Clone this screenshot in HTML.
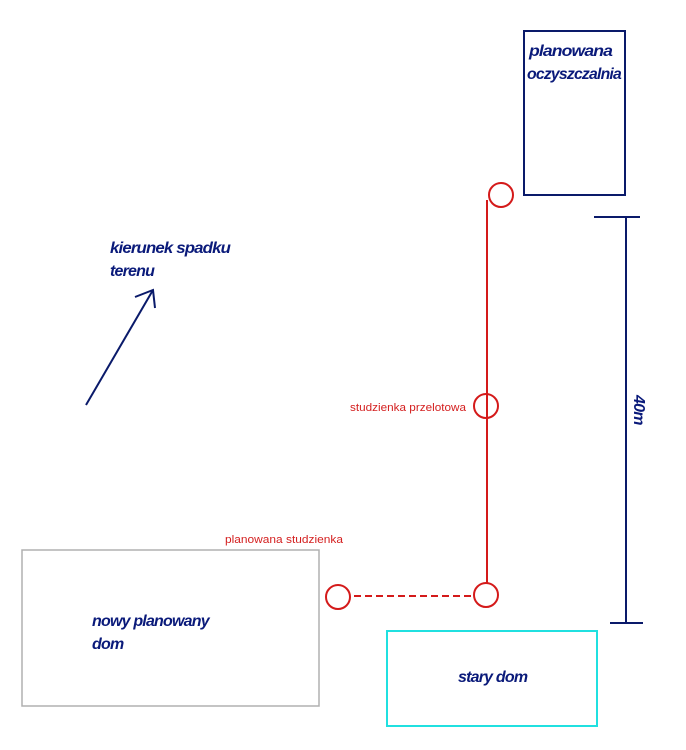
<!DOCTYPE html>
<html><head><style>
html,body{margin:0;padding:0;background:#fff;}
svg{display:block;}
.n{font-family:"Liberation Sans",sans-serif;font-weight:bold;font-style:italic;fill:#0a1a7a;font-size:16px;letter-spacing:-0.8px;}
.r{font-family:"Liberation Sans",sans-serif;fill:#d42020;font-size:11px;}
</style></head><body>
<svg width="686" height="750" viewBox="0 0 686 750" xmlns="http://www.w3.org/2000/svg">
<rect x="524" y="31" width="101" height="164" fill="none" stroke="#0a1a6a" stroke-width="2"/>
<text class="n" x="529" y="56" textLength="83" lengthAdjust="spacingAndGlyphs">planowana</text>
<text class="n" x="527" y="79" textLength="94" lengthAdjust="spacingAndGlyphs">oczyszczalnia</text>
<g fill="none" stroke="#d41a1a" stroke-width="2">
<line x1="487" y1="200" x2="487" y2="583"/>
<circle cx="501" cy="195" r="12"/>
<circle cx="486" cy="406" r="12"/>
<circle cx="486" cy="595" r="12"/>
<circle cx="338" cy="597" r="12"/>
<line x1="354" y1="596" x2="472" y2="596" stroke-dasharray="7,4"/>
</g>
<g stroke="#0a1a6a" stroke-width="2" fill="none">
<line x1="626" y1="217" x2="626" y2="623"/>
<line x1="594" y1="217" x2="640" y2="217"/>
<line x1="610" y1="623" x2="643" y2="623"/>
<polyline points="86,405 153,290"/>
<polyline points="135,297 153,290 155,308"/>
</g>
<text class="n" x="0" y="0" transform="translate(634,395) rotate(90)">40m</text>
<text class="n" x="110" y="253" textLength="120" lengthAdjust="spacingAndGlyphs">kierunek spadku</text>
<text class="n" x="110" y="276">terenu</text>
<text class="r" x="350" y="411" textLength="116" lengthAdjust="spacingAndGlyphs">studzienka przelotowa</text>
<text class="r" x="225" y="543" textLength="118" lengthAdjust="spacingAndGlyphs">planowana studzienka</text>
<rect x="22" y="550" width="297" height="156" fill="none" stroke="#b0b0b0" stroke-width="1.5"/>
<text class="n" x="92" y="626">nowy planowany</text>
<text class="n" x="92" y="649">dom</text>
<rect x="387" y="631" width="210" height="95" fill="none" stroke="#20e0e0" stroke-width="2"/>
<text class="n" x="458" y="682">stary dom</text>
</svg>
</body></html>
